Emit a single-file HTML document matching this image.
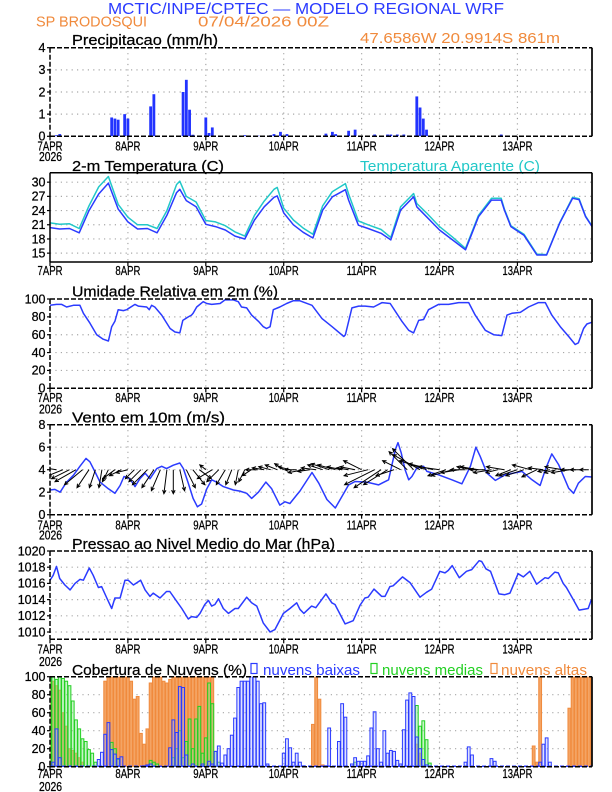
<!DOCTYPE html>
<html><head><meta charset="utf-8"><style>
html,body{margin:0;padding:0;background:#fff}
svg{display:block}
text{font-family:"Liberation Sans",sans-serif}
</style></head><body>
<svg id="chart" width="612" height="792" viewBox="0 0 612 792" xmlns="http://www.w3.org/2000/svg">
<rect width="612" height="792" fill="#fff"/>
<text x="108" y="14" font-size="16" fill="#2b3bff" textLength="396" lengthAdjust="spacingAndGlyphs">MCTIC/INPE/CPTEC — MODELO REGIONAL WRF</text>
<text x="36" y="26.5" font-size="15" fill="#f08a3c" textLength="111" lengthAdjust="spacingAndGlyphs">SP BRODOSQUI</text>
<text x="198" y="26.5" font-size="15" fill="#f08a3c" textLength="131" lengthAdjust="spacingAndGlyphs">07/04/2026 00Z</text>
<text x="360" y="43" font-size="15" fill="#f08a3c" textLength="200" lengthAdjust="spacingAndGlyphs">47.6586W 20.9914S 861m</text>
</svg>
<script>
// ---------- data ----------
const dayLabels = ["7APR","8APR","9APR","10APR","11APR","12APR","13APR"];
const dayHours = [0,24,48,72,96,120,144];

const precipHours = [2,3,19,20,21,23,24,31,32,41,42,43,44,48,49,50,60,64,65,68,69,71,73,85,87,88,92,94,100,104,105,107,109,113,114,115,116,139];
const precipVals  = [0.05,0.1,0.85,0.8,0.75,1.0,0.8,1.35,1.9,2.0,2.55,1.2,0.07,0.85,0.15,0.4,0.05,0.03,0.03,0.05,0.1,0.2,0.1,0.12,0.2,0.1,0.25,0.3,0.08,0.08,0.08,0.08,0.08,1.8,1.3,0.8,0.3,0.08];

const tempHours = [0,3,6,9,12,15,18,21,24,27,30,33,36,39,40,42,45,48,51,54,57,60,63,66,69,70,72,75,78,81,84,87,91,92,95,98,102,105,108,112,113,116,120,124,128,132,136,139,140,142,146,150,153,157,161,163,165,167];
const tempVals  = [20.4,20.1,20.2,19.3,24.0,27.5,29.8,24.3,21.6,20.1,20.2,19.3,23.0,27.8,28.5,26.1,24.8,21.1,20.6,19.9,18.6,18.0,22.0,24.8,26.8,27.1,23.5,21.0,19.4,18.2,24.1,26.9,28.4,26.2,20.9,20.2,19.2,17.8,24.1,26.9,24.8,22.7,19.9,17.8,15.7,22.7,26.2,26.2,24.1,20.6,18.8,14.6,14.6,21.3,26.6,26.3,22.7,20.6];
const apparentVals = [21.4,21.1,21.2,20.2,25.0,29.0,31.2,25.3,22.6,21.0,21.0,20.2,24.0,29.5,30.2,27.0,25.8,21.9,21.6,20.8,19.5,18.6,23.0,26.0,28.5,28.9,24.5,22.0,20.3,19.0,25.0,28.0,29.7,27.5,21.8,21.0,20.0,18.3,24.8,27.6,25.5,23.5,20.6,18.4,16.0,23.0,26.6,26.6,24.3,20.8,19.0,14.8,14.7,21.4,26.8,26.5,22.8,20.7];

const rhHours = [0,2,3.6,5.1,7.2,9.2,10.3,12.3,14.4,16.4,18,19,20,21,22.6,23.6,26.2,27.2,29.8,30.6,31.3,32.3,34.4,37,38.5,40,40.9,42.6,43.6,44.1,45.2,47.2,48.3,49.8,52.4,53.9,56.5,58,59,60.6,62.1,64.2,65.7,66.7,67.8,68.8,70.8,72.9,74.9,77,80.7,83.8,86.9,90.5,91,93,95.1,97.1,99.7,102.3,104.8,108.4,110.5,112,113.6,115.1,116.6,119.7,122.8,125.9,129,131,134.1,136.7,139.2,140.8,142.3,144.9,147.4,150.5,152.6,154.6,157.2,159.8,161.8,162.8,164.4,165.4,167];
const rhVals  = [93,94,94,91,93,93,84,73,60,55,53,69,75,88,87,88,94,92,91,88,93,91,82,67,63,62,76,80,82,84,91,97,95,94,95,99,99,97,91,90,82,75,69,67,69,88,91,95,98,98,93,78,69,58,60,90,92,92,91,96,95,75,65,62,76,77,88,94,94,96,96,82,65,60,59,82,84,85,91,96,96,82,69,58,49,51,67,72,74];

const windHours = [0,1.5,3.1,5.1,7.2,9.2,11.1,12.3,13.9,15.4,18,20,21.6,22.8,24.6,26.2,27.7,29.3,30.8,32.9,34.4,35.9,38,40,41.1,42.6,44.1,45.4,46.7,48.3,49.8,51.3,53.4,56.5,58.5,60.6,62.1,64.2,66.5,68.3,70.8,72.4,73.9,76,77,80.7,82.8,85.3,87.9,89.4,92,94,97.6,101.2,104.3,106.4,107.2,108.2,109.4,110.5,111.5,113,115.1,116.1,119.7,123.8,126.9,129.5,131.2,132.5,134.6,137.2,140.2,145.4,148.5,151,152.6,154.6,156.7,159.8,161.3,162.8,164.9,167];
const windSpeed = [2.2,2.25,2.0,2.9,3.5,4.3,5.0,4.7,3.8,2.9,2.3,1.9,2.6,3.4,3.2,2.5,3.2,3.7,3.2,4.1,4.3,4.1,4.4,4.6,4.1,2.8,1.45,0.7,0.95,2.3,3.1,2.9,2.5,2.2,2.1,1.9,1.45,2.0,2.9,2.3,0.85,1.15,1.0,1.75,2.1,3.75,2.8,1.35,0.6,1.35,2.65,2.95,2.9,2.65,3.1,5.8,6.4,5.5,4.0,3.1,3.4,4.15,4.3,3.85,3.55,3.1,2.75,4.3,6.0,5.2,3.7,3.05,3.55,3.85,3.1,2.6,4.0,5.4,4.45,2.35,1.9,2.8,3.4,3.35];

const arrowHours = [0,2,4,6,8,10,12,14,16,18,20,22,24,26,28,30,32,34,36,38,40,42,44,46,48,50,52,54,56,58,60,62,64,66,68,70,72,74,76,78,80,82,84,86,88,90,92,94,96,98,100,102,104,106,108,110,112,114,116,118,120,122,124,126,128,130,132,134,136,138,140,142,144,146,148,150,152,154,156,158,160,162,164,166];
const windU = [-1.5,-2,-2.5,-3,-3.5,-3,-2,-1,-0.5,-1,-2,-2,-2,-1.5,-2,-2.5,-2,-1.5,-0.5,0,0.8,1.5,2,2,-1,-2.5,-2,-1.5,-1,-0.5,-1,-1.5,-2,-2,-2,-2,-1.5,-2,-2,-2.5,-2,-2.5,-2.5,-3,-3,-2.5,-2,-2.5,-3,-4,-5,-4.5,-4,-3,-3,-3,-3.5,-4.5,-4.5,-4,-3.5,-3,-3.5,-3,-2.5,-2.5,-3,-2.5,-3,-2,-3,-2.5,-3,-3,-3,-2.5,-2.5,-2,-2,-3,-3,-2.5,-2,-1.5];
const windV = [1.2,0.3,-1,-1.5,-2,-2.5,-3,-3,-3,-2,-1.5,-1,-0.5,-1.5,-2,-2.5,-3,-3.5,-4,-4,-3.5,-3,-2.5,-1.5,0.8,-1.5,-2,-2.5,-2.5,-2.5,-2,-1,0,0.3,0.5,0.8,1,0.5,0,-0.5,-0.3,0.3,0.8,1,0.8,0.5,0.3,0.5,1.5,-1,-2.5,-3,-2.5,-1,1.5,3,3.5,2.5,1.5,1,0.5,-1,-1,-0.5,0,0.5,0.5,0,-0.5,-0.5,0.5,-1,-1,-1,0.8,-1.2,0.3,-0.3,-0.5,0.5,-0.5,0,0,0];

const presHours = [0,1,2,3,4.6,6.2,7.7,9.2,10.3,12.1,13.3,14.9,15.9,17.5,19,20,21.6,23.1,24.1,25.7,27.9,29.3,30.8,31.8,33.9,35.9,36.9,39,40.6,42.6,43.6,45.2,46.2,47.7,48.8,49.8,50.8,51.9,53.4,55,57,58,60.6,62.1,63.7,65.7,67.8,69.3,71.9,73.9,76,77,78.2,80.6,81.9,85,86.8,87.8,90.9,93.4,95.5,97,98,99.8,102.2,103.2,104.7,105.7,108.6,110.9,114,116,117.6,120.1,121.7,122.7,123.9,126.1,128.3,129.9,132.2,133,134.3,135.7,138.3,140.1,141.7,144.2,145.8,147.8,149.9,152.5,153.5,155.5,156.6,158.1,159.1,161.2,163,165.8,166.8];
const presVals  = [1016.4,1017.0,1018.1,1016.6,1015.8,1015.2,1016.0,1016.5,1016.4,1017.9,1017.0,1015.5,1015.6,1014.2,1012.9,1014.2,1014.2,1016.4,1016.4,1015.8,1016.4,1015.2,1014.4,1014.8,1014.2,1015.0,1015.0,1013.8,1012.9,1011.6,1011.9,1011.8,1012.3,1013.4,1013.9,1013.2,1013.4,1014.1,1012.9,1012.3,1012.9,1012.9,1014.3,1013.6,1013.2,1011.1,1010.0,1010.3,1012.3,1012.9,1013.6,1012.8,1012.3,1013.2,1013.0,1014.7,1013.6,1013.4,1011.0,1011.4,1013.3,1014.2,1014.3,1015.3,1014.4,1014.4,1015.6,1015.7,1016.8,1016.1,1014.3,1014.9,1015.3,1017.5,1017.3,1017.6,1018.2,1016.7,1017.5,1017.7,1018.8,1018.7,1017.8,1017.5,1014.7,1014.6,1014.8,1017.2,1016.8,1017.5,1015.9,1016.7,1016.6,1017.4,1017.3,1016.0,1015.5,1014.0,1012.7,1012.9,1014.0];

const lowHours = [1,2,3,15,16,17,18,19,20,21,22,29,30,31,37,38,39,40,41,42,44,47,49,50,51,52,53,54,55,56,57,58,59,60,61,62,63,64,65,66,67,72,73,74,75,76,77,78,85,86,89,90,91,93,94,95,96,97,98,99,100,101,102,103,104,105,106,107,108,109,110,111,112,113,114,115,116,128,129,130,136,137,151,152,153,154];
const lowVals  = [5,42,10,8,16,36,49,19,14,9,11,1,2,3,21,52,38,89,88,13,3,3,6,3,17,23,4,13,20,35,54,88,95,95,95,100,100,95,70,71,3,15,31,21,5,15,5,1,1,43,28,70,55,3,10,6,6,6,12,43,61,20,5,40,15,18,17,7,3,41,74,82,78,33,20,8,2,5,22,13,9,6,5,25,32,5];
const midHours = [0,1,2,3,4,5,6,7,8,9,10,11,12,13,14,19,20,21,31,32,33,38,39,40,41,42,43,44,45,46,47,48,49,50,51,52,94,113,114,115,116,117];
const midVals  = [100,100,97,100,98,95,90,73,52,42,31,28,19,15,5,27,20,8,7,5,3,10,20,40,10,28,53,20,53,67,15,32,93,70,17,5,5,68,45,51,30,4];
const highHours = [0,1,2,3,4,5,6,7,8,9,10,17,18,19,20,21,22,23,24,25,26,27,28,29,30,31,32,33,34,35,36,37,38,39,40,41,42,43,44,45,46,47,48,49,50,81,82,83,84,113,114,149,150,151,160,161,162,163,164,165,166,167];
const highVals  = [95,95,90,85,60,45,20,18,15,10,5,95,100,100,100,100,100,100,100,95,75,78,37,25,42,93,100,100,100,95,93,97,100,100,100,100,100,100,100,100,100,100,100,100,100,47,100,75,2,25,15,23,5,100,65,100,100,100,100,100,100,100];

// ---------- drawing ----------
const NS = "http://www.w3.org/2000/svg";
const svg = document.getElementById("chart");
const X0 = 50, XR = 592, PXH = 3.246;
function xs(h){ return X0 + h*PXH; }
function mk(tag, attrs, parent){
  const e = document.createElementNS(NS, tag);
  for (const k in attrs) e.setAttribute(k, attrs[k]);
  (parent || svg).appendChild(e);
  return e;
}
function ys(p, v){ return p.bot - (v - p.min)/(p.max - p.min)*(p.bot - p.top); }

const panels = [
  {key:"precip", top:47.7, bot:136.3, min:0, max:4, ticks:[0,1,2,3,4], lab:150.5, yr:161, title:"Precipitacao (mm/h)", tw:146, tb:45, dashed:true},
  {key:"temp", top:172.7, bot:262, min:13.13, max:32, ticks:[15,18,21,24,27,30], lab:275, yr:null, title:"2-m Temperatura (C)", tw:152, tb:171, dashed:false},
  {key:"rh", top:299, bot:388.3, min:0, max:100, ticks:[0,20,40,60,80,100], lab:402, yr:413.5, title:"Umidade Relativa em 2m (%)", tw:206, tb:296.5, dashed:true},
  {key:"wind", top:424.7, bot:514.7, min:0, max:8, ticks:[0,2,4,6,8], lab:529.5, yr:539.5, title:"Vento em 10m (m/s)", tw:153, tb:422.5, dashed:true},
  {key:"pres", top:551, bot:639.3, min:1009.1, max:1020, ticks:[1010,1012,1014,1016,1018,1020], lab:653.5, yr:666, title:"Pressao ao Nivel Medio do Mar (hPa)", tw:263, tb:549, dashed:true},
  {key:"cloud", top:676.7, bot:766.7, min:0, max:100, ticks:[0,20,40,60,80,100], lab:778, yr:791, title:"Cobertura de Nuvens (%)", tw:175, tb:675, dashed:true}
];

panels.forEach(p => {
  const g = mk("g", {});
  
  
  p.g = g;
  p.ticks.forEach(t => {
    const y = ys(p, t);
    if (y > p.top + 1 && y < p.bot - 1) {
      const gl = mk("line", {x1:X0, x2:XR, y1:y, y2:y, stroke:"#a8a8a8", "stroke-width":1.2, "stroke-dasharray":"1.2,4.2"}, g);
      
      
    }
    const tl = mk("text", {x:45.5, y:y+4.3, "font-size":12.5, "text-anchor":"end", fill:"#000", stroke:"#000", "stroke-width":0.25}, g);
    
    
    tl.textContent = String(t);
    const tk = mk("line", {x1:X0-3, x2:X0, y1:y, y2:y, stroke:"#000", "stroke-width":1.2}, g);
    
    
  });
  dayHours.forEach((h, i) => {
    const x = xs(h);
    if (i > 0) {
      const vl = mk("line", {x1:x, x2:x, y1:p.top, y2:p.bot, stroke:"#a8a8a8", "stroke-width":1.2, "stroke-dasharray":"1.2,4.2"}, g);
      
      
    }
    const tk = mk("line", {x1:x, x2:x, y1:p.bot, y2:p.bot+4, stroke:"#000", "stroke-width":1.2}, g);
    
    
    const lb = mk("text", {x:x, y:p.lab, "font-size":12.5, "text-anchor":"middle", fill:"#000", stroke:"#000", "stroke-width":0.25, textLength:dayLabels[i].length>4?30:25, lengthAdjust:"spacingAndGlyphs"}, g);
    
    
    lb.textContent = dayLabels[i];
  });
  if (p.yr) {
    const yl = mk("text", {x:39, y:p.yr, "font-size":12.5, fill:"#000", stroke:"#000", "stroke-width":0.25, textLength:23, lengthAdjust:"spacingAndGlyphs"}, g);
    
    
    yl.textContent = "2026";
  }
  const tt = mk("text", {x:72, y:p.tb, "font-size":15, fill:"#000", stroke:"#000", "stroke-width":0.25, textLength:p.tw, lengthAdjust:"spacingAndGlyphs"}, g);
  
  
  tt.textContent = p.title;
  const cp = mk("clipPath", {id:"clip-"+p.key}, g);
  mk("rect", {x:X0, y:p.top, width:XR-X0, height:p.bot-p.top}, cp);
  p.plot = mk("g", {"clip-path":"url(#clip-"+p.key+")"}, g);
  
  
});

function frame(p){
  const g = p.g;
  const da = p.dashed ? "5,2" : "none";
  const t = mk("line", {x1:X0, x2:XR, y1:p.top, y2:p.top, stroke:"#000", "stroke-width":1.5, "stroke-dasharray":da}, g);
  
  
  const l = mk("line", {x1:X0, x2:X0, y1:p.top, y2:p.bot, stroke:"#000", "stroke-width":1.5, "stroke-dasharray":da}, g);
  
  
  const r = mk("line", {x1:XR, x2:XR, y1:p.top, y2:p.bot, stroke:"#000", "stroke-width":1.7}, g);
  
  
  const b = mk("line", {x1:X0, x2:XR, y1:p.bot, y2:p.bot, stroke:"#000", "stroke-width":1.5, "stroke-dasharray":da}, g);
  
  
}
function line(p, hours, vals, color, name){
  const pts = hours.map((h,i) => xs(h).toFixed(1)+","+ys(p, vals[i]).toFixed(1)).join(" ");
  const pl = mk("polyline", {points:pts, fill:"none", stroke:color, "stroke-width":1.5, "stroke-linejoin":"round"}, p.plot);
  
  
}

const P = panels;
precipHours.forEach((h,i) => {
  const y = ys(P[0], precipVals[i]);
  const r = mk("rect", {x:xs(h)-1.4, y:y, width:2.8, height:P[0].bot-y, fill:"#2233ff"}, P[0].plot);
  
  
});
line(P[1], tempHours, apparentVals, "#22c8c8", "apparent-temp-line");
line(P[1], tempHours, tempVals, "#2b3bff", "temp-line");
const at = mk("text", {x:360, y:171, "font-size":15, fill:"#22c8c8", textLength:180, lengthAdjust:"spacingAndGlyphs"}, P[1].g);


at.textContent = "Temperatura Aparente (C)";
line(P[2], rhHours, rhVals, "#2b3bff", "humidity-line");
line(P[3], windHours, windSpeed, "#2b3bff", "wind-speed-line");
const yBase = ys(P[3], 4);
arrowHours.forEach((h,i) => {
  const x1 = xs(h), y1 = yBase;
  const x2 = x1 + windU[i]*6, y2 = y1 - windV[i]*6;
  const ang = Math.atan2(y2-y1, x2-x1);
  const hx1 = x2 - 4*Math.cos(ang-0.45), hy1 = y2 - 4*Math.sin(ang-0.45);
  const hx2 = x2 - 4*Math.cos(ang+0.45), hy2 = y2 - 4*Math.sin(ang+0.45);
  const a = mk("path", {d:`M${x1.toFixed(1)},${y1.toFixed(1)}L${x2.toFixed(1)},${y2.toFixed(1)}M${hx1.toFixed(1)},${hy1.toFixed(1)}L${x2.toFixed(1)},${y2.toFixed(1)}L${hx2.toFixed(1)},${hy2.toFixed(1)}`, fill:"none", stroke:"#000", "stroke-width":1}, P[3].plot);
  
  
});
line(P[4], presHours, presVals, "#2b3bff", "pressure-line");
function cloudBars(hours, vals, fill, stroke, name){
  hours.forEach((h,i) => {
    const y = ys(P[5], vals[i]);
    const r = mk("rect", {x:xs(h)-1.4, y:y, width:2.8, height:P[5].bot-y, fill:fill, stroke:stroke, "stroke-width":1}, P[5].plot);
    
    
  });
}
cloudBars(highHours, highVals, "#f4a464", "#f08a3c", "high-cloud-bar");
cloudBars(midHours, midVals, "rgba(130,230,130,0.45)", "#22d022", "mid-cloud-bar");
cloudBars(lowHours, lowVals, "rgba(160,170,255,0.35)", "#2b3bff", "low-cloud-bar");
const base = mk("line", {x1:X0, x2:XR, y1:P[5].bot-0.5, y2:P[5].bot-0.5, stroke:"#2b3bff", "stroke-width":1.5, "stroke-dasharray":"4,2"}, P[5].g);



panels.forEach(frame);

const legendItems = [
  {x:251, tx:263, tw:97, color:"#2b3bff", label:"nuvens baixas", name:"legend-low-clouds"},
  {x:371, tx:382, tw:101, color:"#22d022", label:"nuvens medias", name:"legend-mid-clouds"},
  {x:491, tx:501, tw:86, color:"#f08a3c", label:"nuvens altas", name:"legend-high-clouds"}
];
legendItems.forEach(it => {
  const g = mk("g", {});
  
  
  mk("rect", {x:it.x, y:663.5, width:6, height:10, fill:"none", stroke:it.color, "stroke-width":1.2}, g);
  const t = mk("text", {x:it.tx, y:675, "font-size":15, fill:it.color, textLength:it.tw, lengthAdjust:"spacingAndGlyphs"}, g);
  t.textContent = it.label;
});
</script>
</body></html>
